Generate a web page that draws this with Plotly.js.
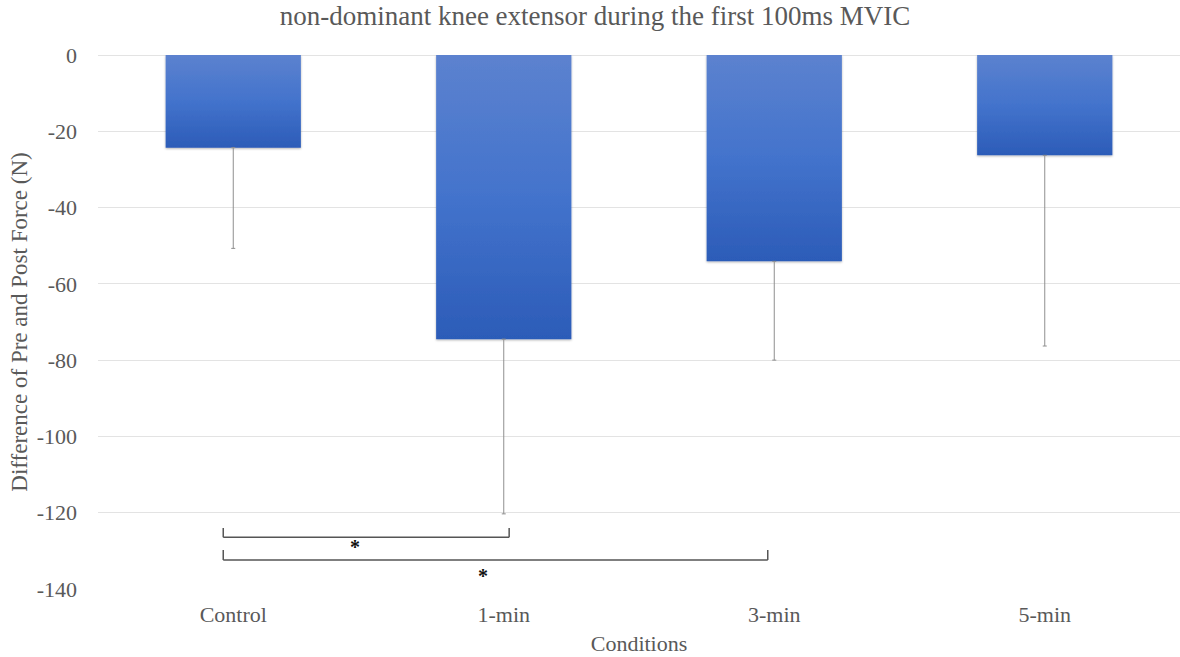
<!DOCTYPE html>
<html>
<head>
<meta charset="utf-8">
<script src="https://cdn.plot.ly/plotly-3.0.1.min.js"></script>
<style>
  html, body { margin: 0; padding: 0; background: #fff; }
  #chart { width: 1180px; height: 657px; }
</style>
</head>
<body>
<div id="chart"></div>
<script>
// ---- data ----
var categories = ["Control", "1-min", "3-min", "5-min"];
var meanDiff = [-24.3, -74.5, -54.1, -26.3];
var sdDown = [26.4, 45.8, 25.9, 50.0];
var yTicks = [0, -20, -40, -60, -80, -100, -120, -140];
// significance brackets
var bracketLeft = [-0.037, -0.037];
var bracketRight = [1.02, 1.976];
var bracketLevel = [-126.4, -132.4];
var bracketTop = [-124.0, -129.8];
var starX = [0.45, 0.925];
var starY = [-128.9, -136.5];
var starText = ["*", "*"];

var textColor = "#595959";
var serif = '"Liberation Serif", "Times New Roman", serif';

var trace = {
  type: "bar",
  x: categories,
  y: meanDiff,
  marker: { color: "#4070c8", line: { width: 0 } },
  error_y: {
    type: "data",
    symmetric: false,
    array: [0, 0, 0, 0],
    arrayminus: sdDown,
    color: "#8f8f8f",
    thickness: 1,
    width: 2
  },
  hoverinfo: "x+y"
};

var shapes = [];
var annotations = [];
for (var i = 0; i < bracketLeft.length; i++) {
  var lc = { color: "#555555", width: 1.5 };
  shapes.push({ type: "line", xref: "x", yref: "y", x0: bracketLeft[i], x1: bracketRight[i], y0: bracketLevel[i], y1: bracketLevel[i], line: lc });
  shapes.push({ type: "line", xref: "x", yref: "y", x0: bracketLeft[i], x1: bracketLeft[i], y0: bracketLevel[i], y1: bracketTop[i], line: lc });
  shapes.push({ type: "line", xref: "x", yref: "y", x0: bracketRight[i], x1: bracketRight[i], y0: bracketLevel[i], y1: bracketTop[i], line: lc });
  annotations.push({ xref: "x", yref: "y", x: starX[i], y: starY[i], text: "<b>" + starText[i] + "</b>", showarrow: false, font: { family: serif, size: 20, color: "#111" } });
}

var layout = {
  width: 1180,
  height: 657,
  margin: { l: 98, r: 0, t: 55, b: 68 },
  paper_bgcolor: "#ffffff",
  plot_bgcolor: "#ffffff",
  font: { family: serif, color: textColor, size: 22 },
  title: {
    text: "non-dominant knee extensor during the first 100ms MVIC",
    font: { family: serif, size: 27, color: textColor },
    x: 595 / 1180, xref: "container", xanchor: "center",
    y: 1 - 16 / 657, yref: "container", yanchor: "middle"
  },
  bargap: 0.5,
  showlegend: false,
  xaxis: {
    type: "category",
    showgrid: false,
    showline: false,
    zeroline: false,
    ticks: "",
    tickfont: { family: serif, size: 22, color: textColor },
    ticklabelstandoff: 10,
    title: { text: "Conditions", font: { family: serif, size: 22, color: textColor }, standoff: 9 }
  },
  yaxis: {
    range: [-140, 0],
    tickvals: yTicks,
    ticktext: yTicks.map(String),
    showgrid: true,
    gridcolor: "#e3e3e3",
    gridwidth: 1,
    zeroline: true,
    zerolinecolor: "#e3e3e3",
    zerolinewidth: 1,
    showline: false,
    ticks: "",
    tickfont: { family: serif, size: 22, color: textColor },
    ticklabelstandoff: 20,
    title: { text: "Difference of Pre and Post Force (N)", font: { family: serif, size: 23, color: textColor }, standoff: 2 }
  },
  shapes: shapes,
  annotations: annotations
};

Plotly.newPlot("chart", [trace], layout, { displayModeBar: false, staticPlot: true }).then(function (gd) {
  var svg = gd.querySelector("svg.main-svg");
  var ns = "http://www.w3.org/2000/svg";
  var defs = svg.querySelector("defs") || svg.insertBefore(document.createElementNS(ns, "defs"), svg.firstChild);
  var grad = document.createElementNS(ns, "linearGradient");
  grad.setAttribute("id", "barGrad");
  grad.setAttribute("x1", "0"); grad.setAttribute("y1", "0");
  grad.setAttribute("x2", "0"); grad.setAttribute("y2", "1");
  [["0%", "#5c82cf"], ["50%", "#4373cc"], ["100%", "#2c5cb8"]].forEach(function (s) {
    var st = document.createElementNS(ns, "stop");
    st.setAttribute("offset", s[0]);
    st.setAttribute("stop-color", s[1]);
    grad.appendChild(st);
  });
  defs.appendChild(grad);
  var filt = document.createElementNS(ns, "filter");
  filt.setAttribute("id", "barShadow");
  filt.setAttribute("x", "-5%"); filt.setAttribute("y", "-5%");
  filt.setAttribute("width", "110%"); filt.setAttribute("height", "115%");
  var ds = document.createElementNS(ns, "feDropShadow");
  ds.setAttribute("dx", "0"); ds.setAttribute("dy", "1");
  ds.setAttribute("stdDeviation", "1.2");
  ds.setAttribute("flood-color", "#000"); ds.setAttribute("flood-opacity", "0.3");
  filt.appendChild(ds);
  defs.appendChild(filt);
  gd.querySelectorAll(".barlayer .point path").forEach(function (p) {
    p.style.fill = "url(#barGrad)";
    p.setAttribute("filter", "url(#barShadow)");
  });
});
</script>
</body>
</html>
